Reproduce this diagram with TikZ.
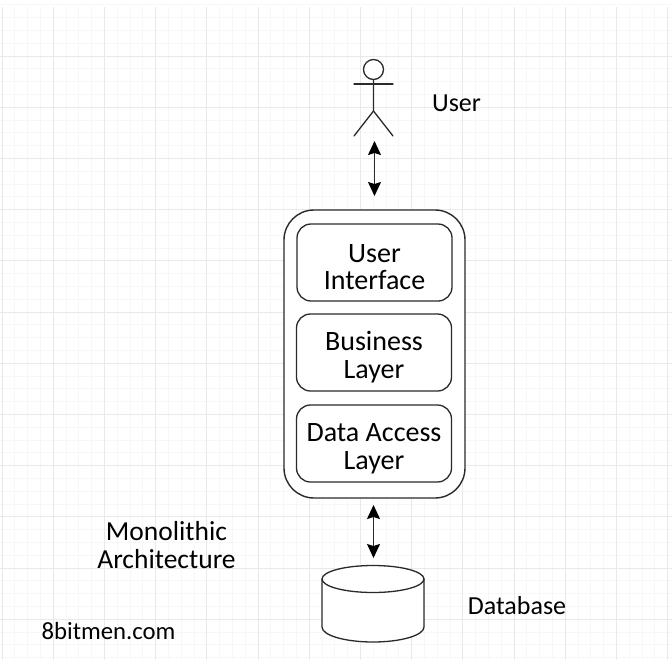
\documentclass[tikz,border=0pt]{standalone}
\usepackage{fontspec}
\setmainfont{Carlito}
\usetikzlibrary{arrows.meta}
\definecolor{ink}{HTML}{2A2A2A}
\definecolor{major}{HTML}{E9E9E9}
\definecolor{minor}{HTML}{F7F7F7}
\newcommand{\dropstrut}[1]{\rule{0pt}{#1}}
\tikzset{
  px/.style={x=1pt,y=-1pt},
  outerbox/.style={draw=ink,fill=white,line width=1.4pt,rounded corners=30pt,minimum width=181pt,minimum height=288pt,inner sep=0pt},
  layerbox/.style={draw=ink,fill=white,line width=1.3pt,rounded corners=14pt,minimum width=155pt,minimum height=77pt,inner sep=0pt,align=center,font=\fontsize{28}{27.5}\selectfont,text=black},
  label/.style={align=center,inner sep=0pt,font=\fontsize{26}{27.5}\selectfont,text=black},
  figure/.style={draw=ink,line width=1.3pt,line cap=round},
  link/.style={draw=ink,line width=1.3pt,{Stealth[length=14pt,width=13pt,inset=2pt,black]}-{Stealth[length=14pt,width=13pt,inset=2pt,black]}},
}
\begin{document}
\begin{tikzpicture}[px]
\useasboundingbox (0,0) rectangle (672,667);
\fill[white] (0,0) rectangle (672,667);
% grid
\foreach \i in {0,...,52} {
  \draw[minor,line width=.8pt] ({2+\i*12.8},7) -- ({2+\i*12.8},660);
}
\foreach \i in {0,...,51} {
  \draw[minor,line width=.8pt] (0,{4.8+\i*12.8}) -- (672,{4.8+\i*12.8});
}
\foreach \i in {0,...,13} {
  \draw[major,line width=.8pt] ({2+\i*51.2},7) -- ({2+\i*51.2},660);
}
\foreach \i in {1,...,12} {
  \draw[major,line width=.8pt] (0,{4.8+\i*51.2}) -- (672,{4.8+\i*51.2});
}
% actor
\node[figure,circle,draw,fill=white,minimum size=20pt,inner sep=0pt] (head) at (373.5,69.5) {};
\coordinate (shoulderL) at (354,84);
\coordinate (shoulderR) at (393,84);
\coordinate (hip) at (373.5,111);
\coordinate (footL) at (354,136);
\coordinate (footR) at (393,136);
\draw[figure] (head.south) -- (hip) -- (footL);
\draw[figure] (hip) -- (footR);
\draw[figure] (shoulderL) -- (shoulderR);
\node[label,anchor=center] (userlabel) at (456.5,103) {User};
% boxes
\node[outerbox] (app) at (374.5,354) {};
\node[layerbox] (ui) at (374.5,262.5) {\dropstrut{27pt}User\\Interface};
\node[layerbox] (biz) at (374,352.5) {\dropstrut{28pt}Business\\Layer};
\node[layerbox] (dal) at (374,443.5) {\dropstrut{28pt}Data Access\\Layer};
% database
\coordinate (dbtop) at (373,565);
\fill[white] (322,579) arc[start angle=180,end angle=0,x radius=51pt,y radius=14pt] -- (424,627) arc[start angle=0,end angle=-180,x radius=51pt,y radius=15pt] -- cycle;
\draw[figure] (322,579) arc[start angle=180,end angle=-180,x radius=51pt,y radius=13.5pt];
\draw[figure] (322,579) -- (322,627) arc[start angle=180,end angle=360,x radius=51pt,y radius=15pt] -- (424,579);
\node[label] (dblabel) at (517,606) {Database};
% connectors
\coordinate (ua) at (374.5,141);
\coordinate (ub) at (374.5,196);
\coordinate (da) at (373.5,505);
\coordinate (db) at (373.5,558);
\draw[link] (ua) -- (ub);
\draw[link] (da) -- (db);
% labels
\node[label,font=\fontsize{27.5}{27.5}\selectfont] (mono) at (166.5,545) {Monolithic\\Architecture};
\node[label,font=\fontsize{24.7}{27.5}\selectfont] (site) at (108.5,631) {8bitmen.com};
\end{tikzpicture}
\end{document}
